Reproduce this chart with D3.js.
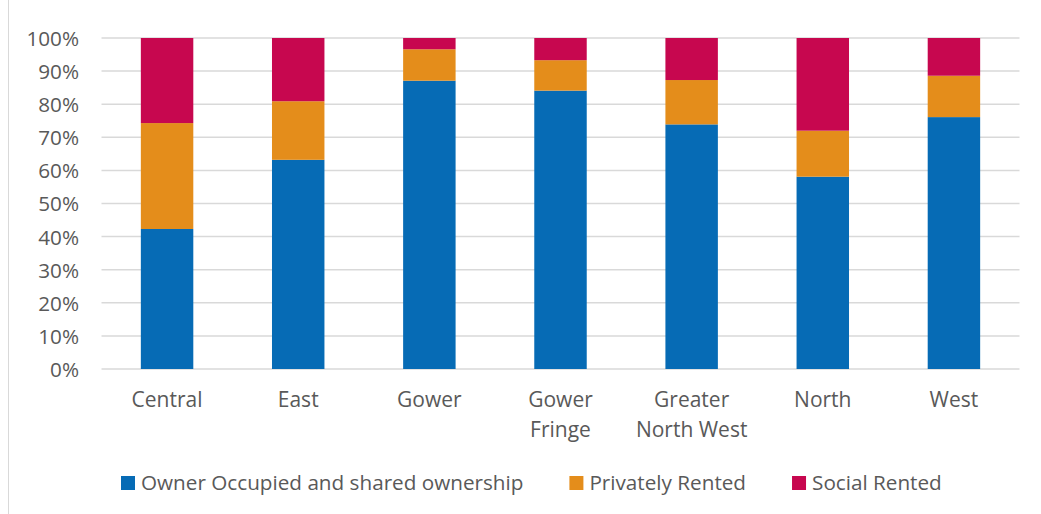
<!DOCTYPE html>
<html>
<head>
<meta charset="utf-8">
<script src="https://cdn.jsdelivr.net/npm/d3@7"></script>
<style>
  html, body { margin: 0; padding: 0; background: #ffffff; }
  svg { display: block; }
  text { font-family: "Open Sans", "Noto Sans", sans-serif; fill: #595959; }
</style>
</head>
<body>
<svg id="chart" width="1041" height="514"></svg>
<script>
// Tenure mix by area (percent of households)
const areas = ["Central", "East", "Gower", "Gower Fringe", "Greater North West", "North", "West"];
const areaLines = [["Central"], ["East"], ["Gower"], ["Gower", "Fringe"], ["Greater", "North West"], ["North"], ["West"]];
const ownerOccupied = [42.3, 63.2, 87.1, 84.1, 73.9, 58.1, 76.1];
const privatelyRented = [32.0, 17.7, 9.5, 9.2, 13.4, 13.9, 12.5];
const socialRented = [25.7, 19.1, 3.4, 6.7, 12.7, 28.0, 11.4];
const seriesNames = ["Owner Occupied and shared ownership", "Privately Rented", "Social Rented"];
const seriesColors = ["#066bb5", "#e48d1b", "#c7074f"];
const yTicks = [0, 10, 20, 30, 40, 50, 60, 70, 80, 90, 100];

const svg = d3.select("#chart");
const plot = { left: 101.5, right: 1019.5, top: 38, bottom: 369 };

// chart frame edge
svg.append("rect")
  .attr("x", 8.5).attr("y", -2).attr("width", 1040).attr("height", 520)
  .attr("fill", "none").attr("stroke", "#d9d9d9").attr("stroke-width", 1);

const x = d3.scaleBand().domain(areas).range([plot.left, plot.right])
  .paddingInner(0.6).paddingOuter(0.3);
const y = d3.scaleLinear().domain([0, 100]).range([plot.bottom, plot.top]);

// gridlines
svg.append("g").selectAll("line").data(yTicks).join("line")
  .attr("x1", plot.left).attr("x2", plot.right)
  .attr("y1", d => y(d)).attr("y2", d => y(d))
  .attr("stroke", "#d9d9d9").attr("stroke-width", 1.5);

// y axis labels
const yAxis = d3.axisLeft(y).tickValues(yTicks).tickFormat(d => d + "%").tickSize(0).tickPadding(0);
const yg = svg.append("g").attr("transform", "translate(79,0)").call(yAxis);
yg.select(".domain").remove();
yg.selectAll("text").attr("font-size", 20.7).attr("fill", "#595959")
  .style("font-family", '"Open Sans", "Noto Sans", sans-serif').attr("dy", "0.36em");

// stacked bars
const rows = areas.map((a, i) => ({ area: a, s0: ownerOccupied[i], s1: privatelyRented[i], s2: socialRented[i] }));
const stack = d3.stack().keys(["s0", "s1", "s2"])(rows);
svg.append("g").selectAll("g").data(stack).join("g")
  .attr("fill", (d, i) => seriesColors[i])
  .selectAll("rect").data(d => d).join("rect")
  .attr("x", d => x(d.data.area))
  .attr("width", x.bandwidth())
  .attr("y", d => y(d[1]))
  .attr("height", d => y(d[0]) - y(d[1]));

// category labels
const xg = svg.append("g");
areas.forEach((a, i) => {
  const t = xg.append("text")
    .attr("x", x(a) + x.bandwidth() / 2)
    .attr("y", 407)
    .attr("text-anchor", "middle")
    .attr("font-size", 21);
  areaLines[i].forEach((line, j) => {
    t.append("tspan").attr("x", x(a) + x.bandwidth() / 2).attr("dy", j === 0 ? 0 : 30).text(line);
  });
});

// legend
const legend = svg.append("g");
let lx = 121;
seriesNames.forEach((name, i) => {
  legend.append("rect").attr("x", lx).attr("y", 476).attr("width", 14).attr("height", 14)
    .attr("fill", seriesColors[i]);
  const t = legend.append("text").attr("x", lx + 20).attr("y", 490).attr("font-size", 20.7).text(name);
  lx += 20 + t.node().getComputedTextLength() + 46;
});
</script>
</body>
</html>
